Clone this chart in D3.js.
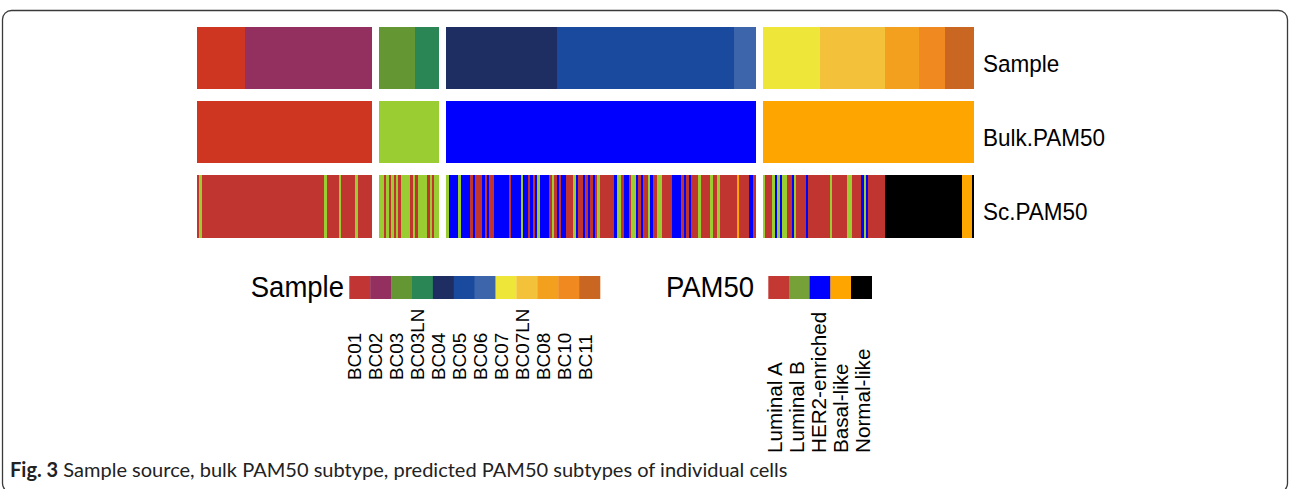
<!DOCTYPE html>
<html>
<head>
<meta charset="utf-8">
<script src="https://cdn.jsdelivr.net/npm/d3@7"></script>
<style>
  body { margin: 0; background: #fff; }
  svg { display: block; }
</style>
</head>
<body>
<div id="chart"></div>
<script>
// row names of the heatmap
const rowNames = ["Sample", "Bulk.PAM50", "Sc.PAM50"]

// sample legend
const samples = ["BC01", "BC02", "BC03", "BC03LN", "BC04", "BC05", "BC06", "BC07", "BC07LN", "BC08", "BC10", "BC11"]
// PAM50 legend
const pam50 = ["Luminal A", "Luminal B", "HER2-enriched", "Basal-like", "Normal-like"]
const pamCode = { A: "Luminal A", B: "Luminal B", H: "HER2-enriched", S: "Basal-like", N: "Normal-like" }

// bulk subtype of each cell block (one per block)
const bulkByBlock = ["A", "B", "H", "S"]

// sample runs per block [sample, number of cells]
const sampleRuns = [
    [["BC01", 20], ["BC02", 53]],
    [["BC03", 15], ["BC03LN", 10]],
    [["BC04", 46], ["BC05", 74], ["BC06", 9]],
    [["BC07", 24], ["BC07LN", 27], ["BC08", 14], ["BC10", 11], ["BC11", 12]]
]

// single cell PAM50 calls, runs per block [code, number of cells]
const scRuns = [
    [["A",1],["B",1],["A",51],["B",1],["A",5],["B",1],["A",6],["B",1],["A",6]],
    [["B",2],["A",1],["B",1],["A",1],["B",1],["A",1],["B",1],["A",1],["B",4],["A",1],["B",1],["A",1],["B",4],["A",1],["B",1],["A",1],["B",2]],
    [["B",1],["H",4],["B",1],["H",4],["A",1],["H",1],["A",3],["H",1],["A",1],["H",1],["A",2],["H",6],["A",1],["H",4],["B",1],["H",2],
     ["A",1],["H",1],["A",1],["H",1],["B",1],["H",4],["A",1],["B",1],["A",1],["H",1],["A",1],["H",2],["A",3],["B",1],["H",1],["A",2],
     ["H",1],["A",1],["H",1],["A",1],["H",1],["A",1],["B",1],["A",6],["H",1],["B",2],["A",1],["H",2],["A",1],["B",2],["H",1],["A",1],
     ["H",1],["A",2],["B",1],["H",1],["A",2],["B",2],["A",4],["H",4],["A",1],["H",1],["A",1],["H",1],["A",3],["B",1],["A",4],["B",1],
     ["A",2],["B",1],["A",7],["S",1],["A",4],["H",2],["A",1]],
    [["B",1],["A",3],["B",1],["H",1],["B",1],["H",1],["B",2],["A",2],["H",1],["B",1],["A",4],["H",1],["A",9],["B",1],["A",6],["B",2],
     ["A",4],["H",1],["B",1],["H",1],["A",7],["N",32],["S",4],["N",1]]
]

// colours
const sampleColor = d3.scaleOrdinal().domain(samples)
    .range(["#c13535", "#93305f", "#659634", "#2b8656", "#1e2d62", "#194a9d", "#3d65ab", "#efe63a", "#f4c13b", "#f2a01d", "#f0891f", "#c96722"])
const heatPam = { "Luminal A": "#c0352f", "Luminal B": "#9acd32", "HER2-enriched": "#0000ff", "Basal-like": "#ffa500", "Normal-like": "#000000" }
const legendPam = { "Luminal A": "#c33833", "Luminal B": "#76a038", "HER2-enriched": "#0000ff", "Basal-like": "#ffa500", "Normal-like": "#000000" }
const redTop = "#ce3622" // the red in the upper two rows comes out more orange

const width = 1290, height = 489
const font = "'Liberation Sans', Arial, Helvetica, sans-serif"
const yStretch = 1.06 // text in the figure is a little taller than wide

const svg = d3.select("#chart").append("svg")
    .attr("width", width).attr("height", height)

// frame
svg.append("rect")
    .attr("x", 2.5).attr("y", 10.5)
    .attr("width", 1285).attr("height", 482)
    .attr("rx", 9)
    .style("fill", "none").style("stroke", "#3a3a3a").style("stroke-width", 1.3)

// expand runs into cells
var cells = []
var idx = 0
sampleRuns.forEach((runs, b) => {
    var sc = []
    scRuns[b].forEach(r => { for (let k = 0; k < r[1]; k++) sc.push(pamCode[r[0]]) })
    var j = 0
    runs.forEach(r => {
        for (let k = 0; k < r[1]; k++) {
            cells.push({ i: idx, block: b, sample: r[0], bulk: pamCode[bulkByBlock[b]], sc: sc[j] })
            idx++; j++
        }
    })
})
const nCells = cells.length
const gap = 7

const x = d3.scaleLinear().domain([0, nCells]).range([197, 974 - gap * (sampleRuns.length - 1)])
const cellX = d => x(d.i) + d.block * gap
const cellW = x(1) - x(0)
const y = d3.scaleBand().domain(rowNames).range([26.5, 237.5]).paddingInner(0.155)

function cellFill(d, row) {
    if (row == "Sample") return d.sample == "BC01" ? redTop : sampleColor(d.sample)
    if (row == "Bulk.PAM50") return d.bulk == "Luminal A" ? redTop : heatPam[d.bulk]
    return heatPam[d.sc]
}

const heat = svg.append("g")
rowNames.forEach(row => {
    // one rect per cell and row; the last cell of a block is not widened into the gap
    heat.append("g").selectAll("rect")
        .data(cells)
        .enter().append("rect")
        .attr("x", cellX)
        .attr("y", y(row))
        .attr("width", (d, k) => (k + 1 < nCells && cells[k + 1].block == d.block) ? cellW + 0.6 : cellW)
        .attr("height", y.bandwidth())
        .attr("shape-rendering", "crispEdges")
        .style("fill", d => cellFill(d, row))
})

// row labels
heat.selectAll("text.rowlabel")
    .data(rowNames)
    .enter().append("text")
    .attr("class", "rowlabel")
    .attr("transform", d => "translate(" + (x.range()[1] + gap * 3 + 9) + "," + (y(d) + y.bandwidth() / 2 + 14) + ")scale(1," + yStretch + ")")
    .style("font-family", font).style("font-size", "22.5px").style("fill", "#000")
    .text(d => d)

// legends
const legY = 276, legH = 23

function drawLegend(title, keys, colorFn, x0, x1, labelX, labelBottom, labelSize, titleRight) {
    const g = svg.append("g")
    const sx = d3.scaleBand().domain(keys).range([x0, x1])
    g.selectAll("rect")
        .data(keys)
        .enter().append("rect")
        .attr("x", d => sx(d)).attr("y", legY)
        .attr("width", sx.bandwidth() + 0.3).attr("height", legH)
        .style("fill", colorFn)
    g.append("text")
        .attr("transform", "translate(" + titleRight + "," + (legY + 21) + ")scale(1," + yStretch + ")")
        .attr("text-anchor", "end")
        .style("font-family", font).style("font-size", "27.5px")
        .text(title)
    g.selectAll("text.lab")
        .data(keys)
        .enter().append("text")
        .attr("class", "lab")
        .attr("transform", d => "translate(" + labelX(d) + "," + labelBottom + ")scale(1," + yStretch + ")rotate(-90)")
        .style("font-family", font).style("font-size", labelSize + "px")
        .text(d => d)
}

const sLab = d3.scalePoint().domain(samples).range([360.5, 591.5])
drawLegend("Sample", samples, d => sampleColor(d), 349.3, 600, d => sLab(d), 380, 17.8, 344)

const pLab = d3.scalePoint().domain(pam50).range([781.5, 869.5])
drawLegend("PAM50", pam50, d => legendPam[d], 768.3, 871.7, d => pLab(d), 453, 19.5, 754)

// caption
const cap = svg.append("text")
    .attr("x", 10).attr("y", 477)
    .style("font-family", "Lato, 'Open Sans', sans-serif").style("font-size", "17px").style("fill", "#222")
cap.append("tspan").style("font-weight", "bold").text("Fig. 3")
cap.append("tspan").text(" Sample source, bulk PAM50 subtype, predicted PAM50 subtypes of individual cells")
// fit caption to its width in the figure
var capW = cap.node().getComputedTextLength()
cap.style("font-size", (17 * 778 / capW) + "px")
</script>
</body>
</html>
